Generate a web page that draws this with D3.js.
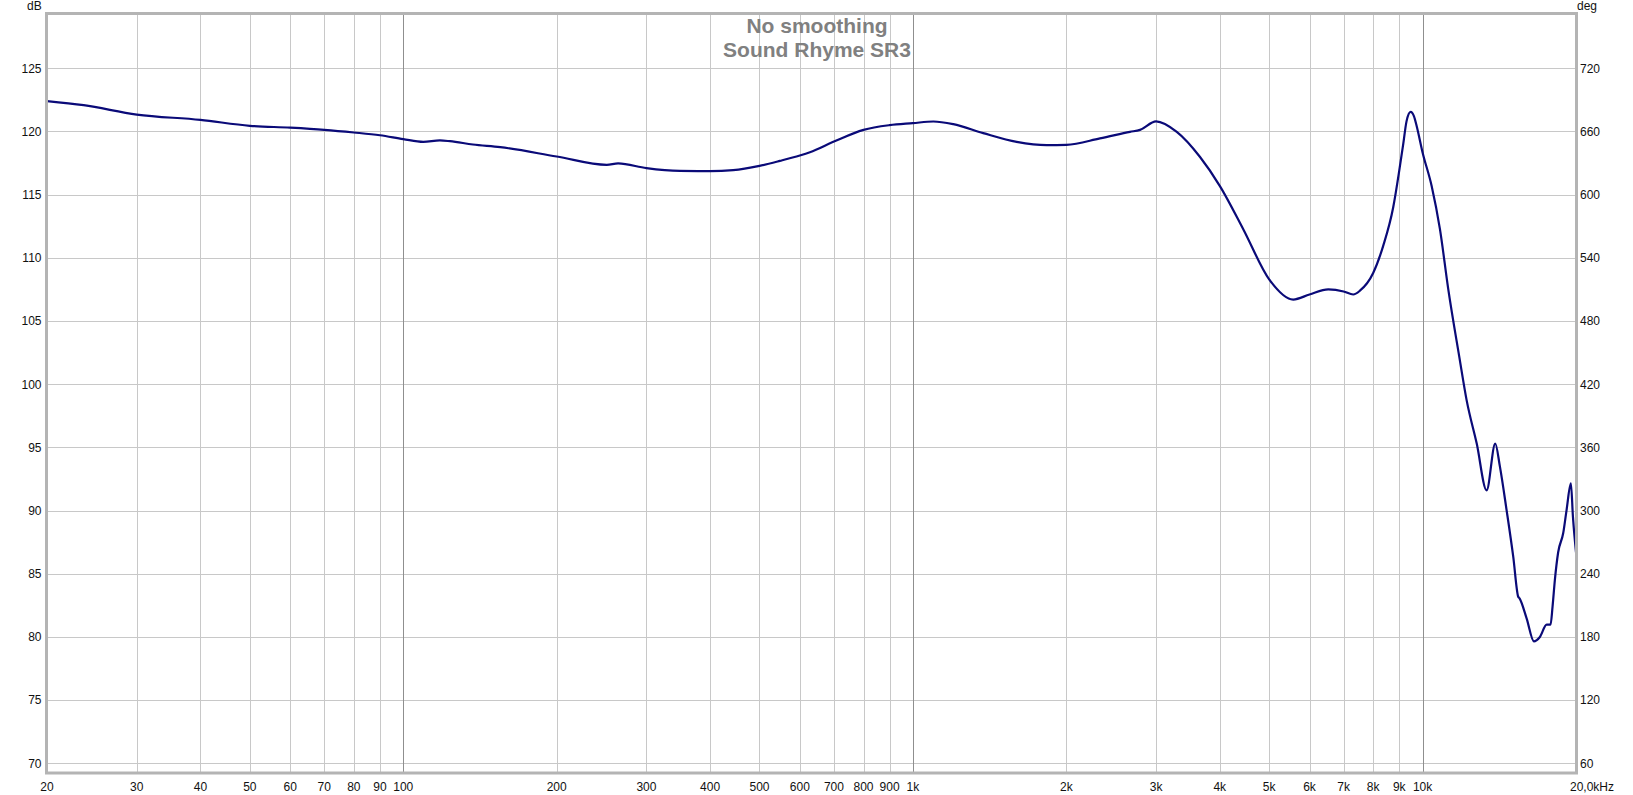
<!DOCTYPE html>
<html>
<head>
<meta charset="utf-8">
<script src="https://cdn.jsdelivr.net/npm/d3@7"></script>
<style>
  html, body { margin: 0; padding: 0; background: #ffffff; }
  svg { display: block; }
  text { font-family: "Liberation Sans", Arial, sans-serif; }
</style>
</head>
<body>
<svg id="chart" width="1633" height="795"></svg>
<script>
// ---- Data ----
const titleLines = ["No smoothing", "Sound Rhyme SR3"];
const leftUnit = "dB";
const rightUnit = "deg";

const freqHz = [20, 23.6, 30, 40, 50, 60, 70, 80, 90, 100, 109.5, 118, 123.5, 137, 155, 200, 250.8, 264, 300, 349, 400, 444, 500, 548, 600, 628, 700, 800, 900, 1000, 1097, 1200, 1374, 1598, 1830, 2000, 2328, 2666, 2790, 3000, 3294, 3656, 4000, 4448, 5000, 5574, 6000, 6532, 7000, 7310, 7535, 8000, 8370, 8758, 9000, 9163, 9300, 9474, 9620, 9736, 10000, 10416, 10816, 11230, 11800, 12201, 12772, 13356, 13886, 14180, 14616, 15062, 15400, 15500, 16000, 16537, 16990, 17517, 17826, 17990, 18178, 18452, 18874, 19166, 19542, 19726, 20000];
const splDb = [122.4, 122.08, 121.34, 120.92, 120.45, 120.3, 120.13, 119.92, 119.7, 119.4, 119.18, 119.29, 119.23, 118.97, 118.76, 118.02, 117.36, 117.47, 117.1, 116.88, 116.86, 116.94, 117.28, 117.67, 118.1, 118.36, 119.2, 120.13, 120.5, 120.66, 120.79, 120.58, 119.87, 119.18, 118.92, 118.94, 119.45, 119.97, 120.13, 120.8, 119.97, 118.0, 115.7, 112.27, 108.3, 106.7, 107.1, 107.5, 107.34, 107.1, 107.4, 108.8, 110.95, 114.0, 116.9, 119.0, 120.8, 121.55, 121.2, 120.44, 118.34, 115.7, 112.27, 107.52, 102.2, 98.74, 95.3, 91.6, 95.3, 93.5, 90.04, 86.35, 83.2, 83.05, 81.47, 79.65, 80.0, 80.97, 80.97, 82.4, 84.5, 86.7, 88.2, 90.04, 92.15, 89.5, 86.7];

const dbTicks = [125, 120, 115, 110, 105, 100, 95, 90, 85, 80, 75, 70];
const degTicks = [720, 660, 600, 540, 480, 420, 360, 300, 240, 180, 120, 60];
const freqGrid = [30, 40, 50, 60, 70, 80, 90, 100, 200, 300, 400, 500, 600, 700, 800, 900, 1000, 2000, 3000, 4000, 5000, 6000, 7000, 8000, 9000, 10000];
const freqDecades = [100, 1000, 10000];
const freqTickValues = [20, 30, 40, 50, 60, 70, 80, 90, 100, 200, 300, 400, 500, 600, 700, 800, 900, 1000, 2000, 3000, 4000, 5000, 6000, 7000, 8000, 9000, 10000, 20000];
const freqTickLabels = ["20", "30", "40", "50", "60", "70", "80", "90", "100", "200", "300", "400", "500", "600", "700", "800", "900", "1k", "2k", "3k", "4k", "5k", "6k", "7k", "8k", "9k", "10k", "20,0kHz"];

// ---- Layout ----
const plotLeft = 47, plotRight = 1576, plotTop = 14, plotBottom = 772.5;

const x = d3.scaleLog().domain([20, 20000]).range([plotLeft, plotRight]);
const y = d3.scaleLinear().domain([70, 125]).range([763.3, 68.3]);
const yDeg = d3.scaleLinear().domain([60, 720]).range([763.3, 68.3]);

const svg = d3.select("#chart");

// grid
const grid = svg.append("g");
grid.selectAll("line.h").data(dbTicks).join("line")
  .attr("x1", plotLeft).attr("x2", plotRight)
  .attr("y1", d => Math.round(y(d)) + 0.5).attr("y2", d => Math.round(y(d)) + 0.5)
  .attr("stroke", "#c8c8c8").attr("stroke-width", 1);
grid.selectAll("line.v").data(freqGrid).join("line")
  .attr("x1", d => Math.round(x(d)) + 0.5).attr("x2", d => Math.round(x(d)) + 0.5)
  .attr("y1", plotTop).attr("y2", plotBottom)
  .attr("stroke", d => freqDecades.includes(d) ? "#8f8f8f" : "#c8c8c8")
  .attr("stroke-width", 1);

// title
svg.append("g").selectAll("text").data(titleLines).join("text")
  .attr("x", 817).attr("y", (d, i) => 33 + i * 23.5)
  .attr("text-anchor", "middle")
  .attr("font-size", 21).attr("font-weight", "bold")
  .attr("fill", "#808080")
  .text(d => d);

// curve
svg.append("clipPath").attr("id", "clip").append("rect")
  .attr("x", plotLeft).attr("y", plotTop)
  .attr("width", plotRight - plotLeft).attr("height", plotBottom - plotTop);

const pts = freqHz.map((f, i) => [f, splDb[i]]);
const line = d3.line().x(d => x(d[0])).y(d => y(d[1])).curve(d3.curveMonotoneX);
svg.append("path").datum(pts)
  .attr("clip-path", "url(#clip)")
  .attr("d", line).attr("fill", "none")
  .attr("stroke", "#0a0a78").attr("stroke-width", 2.2)
  .attr("stroke-linejoin", "round");

// border
svg.append("rect")
  .attr("x", plotLeft - 0.5).attr("y", plotTop - 0.5)
  .attr("width", plotRight - plotLeft + 1).attr("height", plotBottom - plotTop + 1)
  .attr("fill", "none").attr("stroke", "#b4b4b4").attr("stroke-width", 3);

// left axis labels
const leftAxis = svg.append("g");
leftAxis.selectAll("text").data(dbTicks).join("text")
  .attr("x", 41.5).attr("y", d => y(d) + 4.3)
  .attr("text-anchor", "end").attr("font-size", 12).attr("fill", "#111")
  .text(d => d);
svg.append("text").attr("x", 27).attr("y", 10).attr("font-size", 12).attr("fill", "#111").text(leftUnit);

// right axis labels
const rightAxis = svg.append("g");
rightAxis.selectAll("text").data(degTicks).join("text")
  .attr("x", 1580).attr("y", d => yDeg(d) + 4.3)
  .attr("text-anchor", "start").attr("font-size", 12).attr("fill", "#111")
  .text(d => d);
svg.append("text").attr("x", 1577).attr("y", 10).attr("font-size", 12).attr("fill", "#111").text(rightUnit);

// bottom axis labels
svg.append("g").selectAll("text").data(freqTickValues).join("text")
  .attr("x", (d, i) => i === freqTickValues.length - 1 ? x(d) + 16 : x(d))
  .attr("y", 791)
  .attr("text-anchor", "middle").attr("font-size", 12).attr("fill", "#111")
  .text((d, i) => freqTickLabels[i]);
</script>
</body>
</html>
